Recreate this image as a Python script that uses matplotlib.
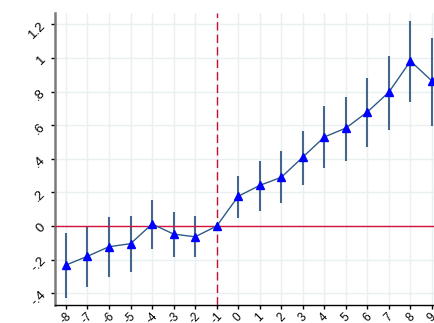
import numpy as np
import matplotlib
matplotlib.use("Agg")
import matplotlib.pyplot as plt

# ================= DATA =================
periods = [-8, -7, -6, -5, -4, -3, -2, -1, 0, 1, 2, 3, 4, 5, 6, 7, 8, 9]
coef = [-0.232, -0.18, -0.123, -0.105, 0.012, -0.048, -0.064, 0.0,
        0.177, 0.242, 0.29, 0.41, 0.53, 0.583, 0.679, 0.797, 0.982, 0.863]
ci_low = [-0.427, -0.365, -0.302, -0.274, -0.139, -0.185, -0.183, 0.0,
          0.05, 0.091, 0.139, 0.242, 0.345, 0.39, 0.47, 0.571, 0.738, 0.595]
ci_high = [-0.04, -0.004, 0.052, 0.058, 0.155, 0.085, 0.06, 0.0,
           0.3, 0.387, 0.446, 0.565, 0.714, 0.768, 0.881, 1.01, 1.22, 1.12]

y_ticks = [-0.4, -0.2, 0, 0.2, 0.4, 0.6, 0.8, 1, 1.2]
y_labels = ["-.4", "-.2", "0", ".2", ".4", ".6", ".8", "1", "1.2"]

# ================= PLOT =================
plt.rcParams["font.family"] = ["Liberation Sans", "DejaVu Sans"]

fig = plt.figure(figsize=(4.35, 3.23), dpi=100)
ax = fig.add_axes([0.1264, 0.0557, 0.8736, 0.9041])

ax.set_axisbelow(True)
ax.grid(True, color="#e8f0f2", linewidth=1.0)

ax.vlines(periods, ci_low, ci_high, color="#44678b", linewidth=1.5, zorder=2)
ax.axhline(0, color="#d6103e", linewidth=1.0, zorder=3)
ax.axvline(-1, color="#c8102e", linewidth=1.0, linestyle=(0, (6, 3)), zorder=3)
ax.plot(periods, coef, color="#2e5b86", linewidth=1.0, zorder=4)
ax.plot(periods, coef, linestyle="none", marker="^", markersize=5.5,
        color="#0000ff", zorder=5)

ax.set_xlim(-8.51, 9.14)
ax.set_ylim(-0.47, 1.268)
ax.set_xticks(periods)
ax.set_xticklabels([str(p) for p in periods], rotation=45, fontsize=8.5,
                   ha="center", va="top")
ax.set_yticks(y_ticks)
ax.set_yticklabels(y_labels, rotation=45, fontsize=9.5)

for side in ["top", "right"]:
    ax.spines[side].set_visible(False)
ax.spines["left"].set_color("#7a7a7a")
ax.spines["left"].set_linewidth(1.8)
ax.spines["bottom"].set_color("black")
ax.spines["bottom"].set_linewidth(1.0)
ax.tick_params(axis="both", length=3, width=1, color="black")
ax.tick_params(axis="x", pad=1)
ax.tick_params(axis="y", pad=2)

fig.savefig("out.png", dpi=100)
